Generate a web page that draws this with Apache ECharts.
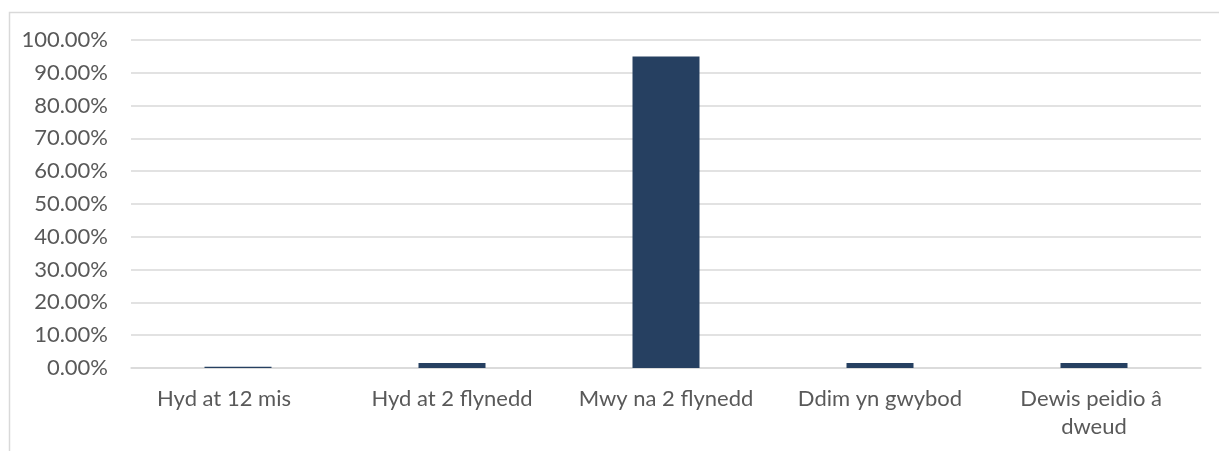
<!DOCTYPE html>
<html>
<head>
<meta charset="utf-8">
<script src="https://cdn.jsdelivr.net/npm/echarts@6/dist/echarts.min.js"></script>
<style>
html,body{margin:0;padding:0;background:#fff;}
#c{width:1219px;height:451px;}
</style>
</head>
<body>
<div id="c"></div>
<script>
const categories = ['Hyd at 12 mis', 'Hyd at 2 flynedd', 'Mwy na 2 flynedd', 'Ddim yn gwybod', 'Dewis peidio â dweud'];
const values = [0.4, 1.5, 95.0, 1.5, 1.5];
const yMin = 0, yMax = 100, yStep = 10;

const chart = echarts.init(document.getElementById('c'), null, {renderer: 'canvas'});
const font = 'Lato, "Noto Sans", sans-serif';
chart.setOption({
  animation: false,
  backgroundColor: '#fff',
  graphic: [{
    type: 'rect', left: 7, top: 10, z: -1,
    shape: {width: 1240, height: 470},
    style: {fill: 'none', stroke: '#d9d9d9', lineWidth: 1.5}
  }],
  grid: {left: 131, right: 18, top: 40, bottom: 83, containLabel: false},
  xAxis: {
    type: 'category',
    data: categories,
    axisLine: {show: true, lineStyle: {color: '#d9d9d9', width: 1.5}},
    axisTick: {show: false},
    axisLabel: {
      color: '#595959', fontFamily: font, fontSize: 22, margin: 17,
      lineHeight: 28, interval: 0, width: 185, overflow: 'break',
      formatter: (v, i) => i === 0 ? '{s|' + v + '}' : v,
      rich: {
        s: {color: '#595959', fontFamily: font, fontSize: 22, lineHeight: 28, padding: [0, 28, 0, 0]}
      }
    }
  },
  yAxis: {
    type: 'value', min: yMin, max: yMax, interval: yStep,
    axisLine: {show: false}, axisTick: {show: false},
    splitLine: {lineStyle: {color: '#d9d9d9', width: 1.5}},
    axisLabel: {
      color: '#595959', fontFamily: font, fontSize: 22, margin: 23,
      formatter: v => v.toFixed(2) + '%'
    }
  },
  series: [{
    type: 'bar',
    data: values,
    barWidth: 67,
    itemStyle: {color: '#264061'}
  }]
});
</script>
</body>
</html>
